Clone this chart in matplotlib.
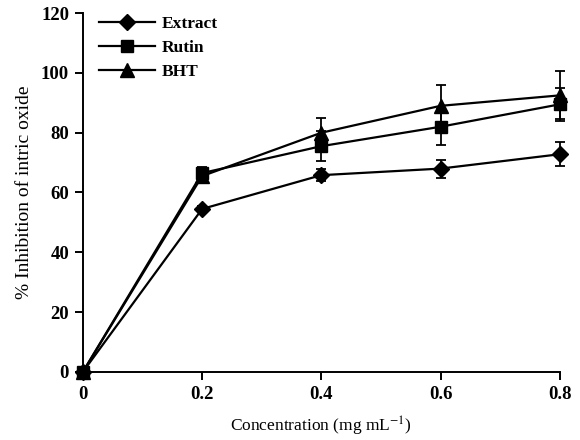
import numpy as np
import matplotlib.pyplot as plt
from matplotlib.lines import Line2D

plt.rcParams['font.family'] = ['Liberation Serif', 'DejaVu Serif']
plt.rcParams['mathtext.fontset'] = 'stix'

# Data
conc = [0, 0.2, 0.4, 0.6, 0.8]
extract = [0, 54.5, 65.8, 68.0, 72.8]
extract_err = [0, 1.0, 2.0, 3.0, 4.0]
rutin = [0, 66.5, 75.5, 82.0, 89.5]
rutin_err = [0, 2.0, 5.0, 6.0, 5.5]
bht = [0, 65.5, 80.0, 89.0, 92.5]
bht_err = [0, 1.5, 5.0, 7.0, 8.0]

series = [
    ("Extract", extract, extract_err, "D", 8),
    ("Rutin", rutin, rutin_err, "s", 9),
    ("BHT", bht, bht_err, "^", 10),
]

fig = plt.figure(figsize=(5.8, 4.4), dpi=100)
ax = fig.add_axes([0.143, 0.155, 0.822, 0.815])

handles = []
for label, vals, err, mk, ms in series:
    ax.errorbar(conc, vals, yerr=err, color="black", marker=mk, markersize=ms,
                linewidth=1.6, elinewidth=1.3, capsize=3.5, capthick=1.3,
                clip_on=False, zorder=3)
    handles.append(Line2D([], [], color="black", marker=mk, markersize=ms,
                          linewidth=1.6, label=label))

ax.set_xlim(0, 0.8)
ax.set_ylim(0, 120)
ax.set_xticks([0, 0.2, 0.4, 0.6, 0.8])
ax.set_xticklabels(["0", "0.2", "0.4", "0.6", "0.8"])
ax.set_yticks(range(0, 121, 20))

for s in ["top", "right"]:
    ax.spines[s].set_visible(False)
for s in ["left", "bottom"]:
    ax.spines[s].set_linewidth(1.4)

ax.tick_params(direction="out", length=6, width=1.4, labelsize=13.5, pad=4)
for t in ax.get_xticklabels() + ax.get_yticklabels():
    t.set_fontweight("bold")

ax.set_xlabel(r"Concentration (mg mL$^{-1}$)", fontsize=12.5, labelpad=9)
ax.set_ylabel("% Inhibition of intric oxide", fontsize=14, labelpad=6)

ax.legend(handles=handles, loc="upper left", bbox_to_anchor=(0.005, 1.03),
          frameon=False, handlelength=3.2, labelspacing=0.45,
          handletextpad=0.4, borderpad=0.3,
          prop={"weight": "bold", "size": 12.5})

fig.savefig("out.png", dpi=100)
